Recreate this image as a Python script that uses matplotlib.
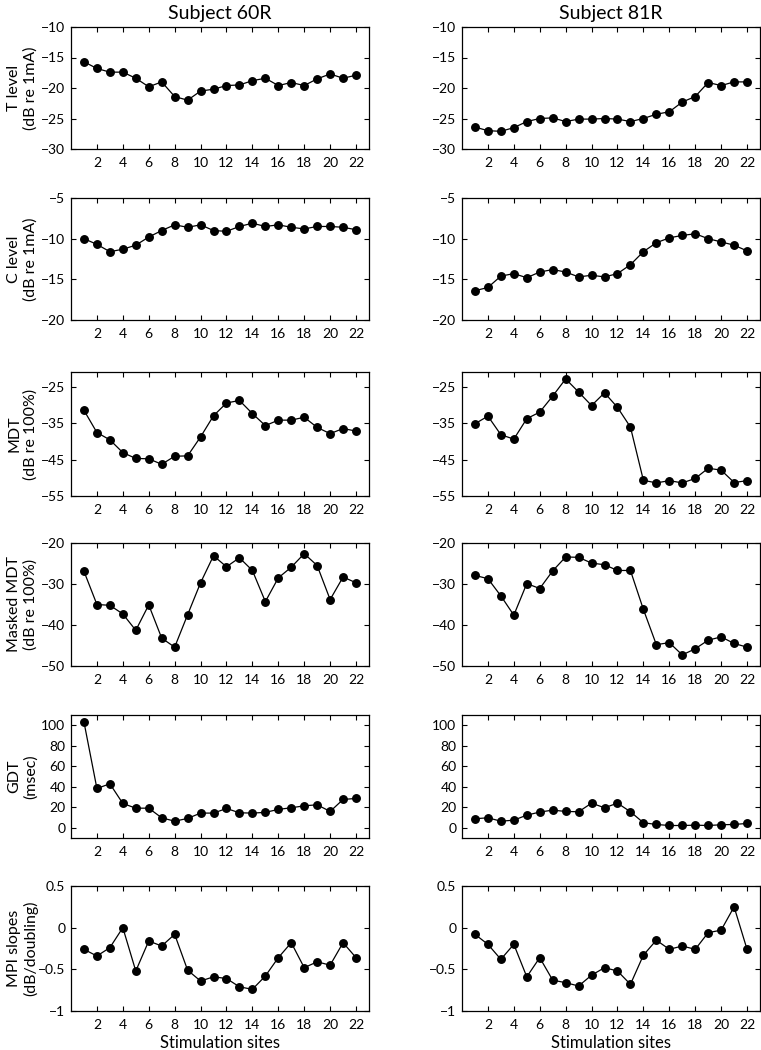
import matplotlib
matplotlib.use("Agg")
import matplotlib.pyplot as plt

plt.rcParams["font.family"] = ["Lato", "DejaVu Sans"]

sites = list(range(1, 23))

# Subject 60R (left column)
t_level_60 = [-15.7, -16.8, -17.4, -17.4, -18.4, -19.8, -19.0, -21.4, -22.0, -20.5, -20.2,
              -19.6, -19.5, -18.8, -18.4, -19.6, -19.1, -19.6, -18.5, -17.7, -18.4, -17.9]
c_level_60 = [-10.0, -10.7, -11.6, -11.3, -10.8, -9.8, -9.0, -8.3, -8.6, -8.3, -9.0,
              -9.1, -8.5, -8.1, -8.5, -8.3, -8.6, -8.8, -8.5, -8.5, -8.6, -8.9]
mdt_60 = [-31.5, -37.6, -39.6, -43.1, -44.7, -44.8, -46.3, -44.1, -44.0, -38.8, -33.0,
          -29.5, -28.8, -32.4, -35.7, -34.2, -34.2, -33.4, -36.2, -37.9, -36.5, -37.2]
masked_60 = [-26.9, -35.0, -35.2, -37.3, -41.3, -35.1, -43.2, -45.4, -37.5, -29.7, -23.1,
             -25.8, -23.6, -26.7, -34.3, -28.5, -25.9, -22.6, -25.5, -33.8, -28.3, -29.7]
gdt_60 = [103.2, 38.3, 42.9, 23.7, 19.1, 19.1, 9.7, 6.4, 9.1, 14.3, 14.3,
          18.8, 14.6, 14.3, 15.0, 17.9, 19.5, 21.4, 22.4, 15.9, 27.6, 28.6]
mpi_60 = [-0.26, -0.34, -0.24, 0.0, -0.52, -0.16, -0.22, -0.08, -0.51, -0.64, -0.59,
          -0.61, -0.71, -0.74, -0.58, -0.36, -0.18, -0.48, -0.41, -0.45, -0.18, -0.36]

# Subject 81R (right column)
t_level_81 = [-26.4, -27.0, -27.1, -26.5, -25.5, -25.0, -24.9, -25.5, -25.1, -25.1, -25.0,
              -25.1, -25.5, -25.0, -24.3, -23.9, -22.3, -21.4, -19.1, -19.6, -19.0, -19.0]
c_level_81 = [-16.4, -16.0, -14.6, -14.3, -14.8, -14.1, -13.8, -14.1, -14.7, -14.5, -14.7,
              -14.3, -13.2, -11.6, -10.5, -9.9, -9.6, -9.4, -10.0, -10.4, -10.8, -11.5]
mdt_81 = [-35.2, -33.1, -38.2, -39.4, -33.8, -32.0, -27.6, -22.9, -26.5, -30.2, -26.7,
          -30.7, -36.1, -50.7, -51.4, -50.8, -51.4, -50.2, -47.4, -47.9, -51.3, -50.8]
masked_81 = [-27.9, -28.7, -32.9, -37.6, -29.9, -31.1, -26.8, -23.4, -23.5, -24.9, -25.3,
             -26.7, -26.7, -36.2, -44.8, -44.3, -47.3, -45.8, -43.7, -42.9, -44.5, -45.4]
gdt_81 = [8.8, 9.7, 6.4, 7.4, 12.3, 15.3, 17.2, 15.9, 15.6, 24.0, 19.5,
          24.0, 15.6, 4.9, 3.2, 2.2, 2.2, 2.5, 2.2, 2.9, 3.2, 4.2]
mpi_81 = [-0.08, -0.20, -0.38, -0.20, -0.59, -0.36, -0.63, -0.66, -0.70, -0.57, -0.48,
          -0.52, -0.68, -0.33, -0.15, -0.26, -0.22, -0.26, -0.06, -0.03, 0.25, -0.26]

titles = ["Subject 60R", "Subject 81R"]
ylabels = ["T level\n(dB re 1mA)", "C level\n(dB re 1mA)", "MDT\n(dB re 100%)",
           "Masked MDT\n(dB re 100%)", "GDT\n(msec)", "MPI slopes\n(dB/doubling)"]
ylims = [(-30, -10), (-20, -5), (-55, -21), (-50, -20), (-10, 110), (-1, 0.5)]
yticks = [[-30, -25, -20, -15, -10], [-20, -15, -10, -5], [-55, -45, -35, -25],
          [-50, -40, -30, -20], [0, 20, 40, 60, 80, 100], [-1, -0.5, 0, 0.5]]
ytick_labels = [None, None, None, None, None, ["\u22121", "\u22120.5", "0", "0.5"]]
columns = [
    [t_level_60, c_level_60, mdt_60, masked_60, gdt_60, mpi_60],
    [t_level_81, c_level_81, mdt_81, masked_81, gdt_81, mpi_81],
]

W, H = 761, 1050
fig = plt.figure(figsize=(W / 100, H / 100), dpi=100)

# axes boxes in pixels
col_x = [(71, 369), (462, 760)]
row_y = [(27, 149), (198, 320), (372, 496), (543, 666), (715, 838), (886, 1011)]

for c, series_list in enumerate(columns):
    x0, x1 = col_x[c]
    for r, vals in enumerate(series_list):
        y0, y1 = row_y[r]
        ax = fig.add_axes([x0 / W, 1 - y1 / H, (x1 - x0) / W, (y1 - y0) / H])
        ax.plot(sites, vals, color="black", lw=0.9, marker="o", ms=5.4,
                markerfacecolor="black", markeredgecolor="black")
        ax.set_xlim(0, 23)
        ax.set_ylim(*ylims[r])
        ax.set_xticks(range(2, 23, 2))
        ax.set_yticks(yticks[r])
        if ytick_labels[r] is not None:
            ax.set_yticklabels(ytick_labels[r])
        ax.tick_params(direction="in", top=True, right=True, length=3.5,
                       width=0.8, labelsize=10, pad=4)
        ax.tick_params(axis="x", pad=6)
        for s in ax.spines.values():
            s.set_linewidth(0.9)
        if c == 0:
            ax.set_ylabel(ylabels[r], fontsize=11.5)
            # right edge of the label block sits at a fixed offset left of the axis
            ax.yaxis.set_label_coords(-33 / (x1 - x0), 0.5)
        if r == 0:
            ax.set_title(titles[c], fontsize=14, pad=6)
        if r == 5:
            ax.set_xlabel("Stimulation sites", fontsize=12, labelpad=3)

fig.savefig("out.png", dpi=100)
